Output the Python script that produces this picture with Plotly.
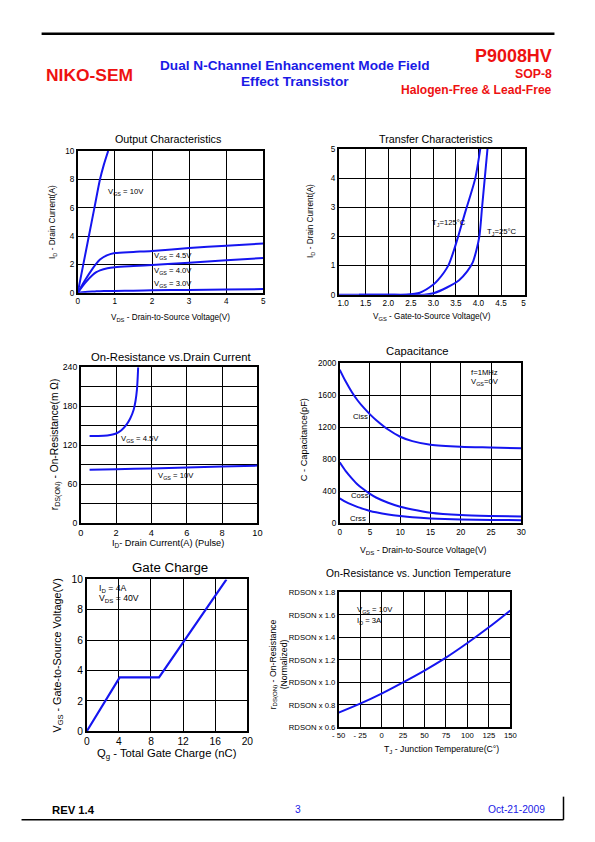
import plotly.graph_objects as go

# ---------------- data ----------------
out_vds_10 = [0, 0.15, 0.3, 0.45, 0.6, 0.7, 0.82]
out_id_10 = [0, 2, 4, 6, 8, 9, 10]
out_vds = [0, 0.2, 0.4, 0.5, 0.6, 0.8, 1.0, 1.5, 2, 3, 4, 5]
out_id_45 = [0, 0.9, 1.7, 2.05, 2.35, 2.65, 2.8, 2.88, 2.95, 3.15, 3.32, 3.47]
out_id_40 = [0, 0.7, 1.25, 1.45, 1.58, 1.73, 1.8, 1.88, 1.95, 2.12, 2.3, 2.45]
out_id_30 = [0, 0.06, 0.09, 0.1, 0.11, 0.12, 0.13, 0.15, 0.17, 0.2, 0.23, 0.26]

tr_vgs_125 = [0.9, 2.0, 2.4, 2.7, 3.0, 3.1, 3.33, 3.45, 3.55, 3.7, 3.8, 3.93, 4.04]
tr_id_125 = [0, 0, 0, 0.07, 0.35, 0.5, 1.0, 1.5, 2.0, 2.8, 3.3, 4.0, 5.0]
tr_vgs_25 = [1.35, 2.5, 2.8, 3.0, 3.3, 3.57, 3.75, 3.87, 3.95, 4.02, 4.08, 4.14, 4.2]
tr_id_25 = [0, 0, 0, 0.05, 0.25, 0.5, 0.8, 1.1, 1.5, 2.0, 3.0, 4.0, 5.0]

rd_id_45 = [0.5, 1.0, 1.5, 2.0, 2.3, 2.6, 2.8, 3.0, 3.1, 3.18, 3.22, 3.25]
rd_r_45 = [134, 134, 135, 138, 143, 152, 161, 175, 188, 205, 222, 240]
rd_id_10 = [0.5, 2, 4, 6, 8, 10]
rd_r_10 = [82, 83, 84, 85.5, 87, 88.5]

cap_vds = [0, 1, 2, 3, 4, 5, 6, 8, 10, 12, 15, 20, 25, 30]
cap_ciss = [1920, 1770, 1640, 1530, 1440, 1360, 1290, 1170, 1080, 1025, 980, 955, 945, 935]
cap_coss = [760, 650, 560, 480, 420, 365, 320, 255, 205, 170, 130, 100, 88, 82]
cap_crss = [310, 265, 230, 200, 175, 152, 135, 108, 88, 72, 58, 45, 40, 37]

gc_qg = [0, 4.1, 9.0, 17.4]
gc_vgs = [0, 3.55, 3.55, 10]

rt_tj = [-50, -25, 0, 25, 50, 75, 100, 125, 150]
rt_r = [0.73, 0.81, 0.90, 1.0, 1.105, 1.22, 1.35, 1.49, 1.64]

rt_yticks = [0.6, 0.8, 1.0, 1.2, 1.4, 1.6, 1.8]
rt_yticktext = ["RDSON x 0.6", "RDSON x 0.8", "RDSON x 1.0", "RDSON x 1.2",
                "RDSON x 1.4", "RDSON x 1.6", "RDSON x 1.8"]
rt_xticks = [-50, -25, 0, 25, 50, 75, 100, 125, 150]
rt_xticktext = ["- 50", "- 25", "0", "25", "50", "75", "100", "125", "150"]

# ---------------- layout helpers ----------------
PAGE_W, PAGE_H = 595, 842
OFF = 8  # default page margin of the html body
W, H = PAGE_W - 2 * OFF, PAGE_H - 2 * OFF
# observed capture mapping (page -> picture): picture = S * page + B
SX, BX = 0.974, 7.7
SY, BY = 0.981, 8.0
FS = 1.025
FONT = "Liberation Sans, Arial, sans-serif"
BLUE = "#1515f0"
RED = "#ee1111"
TBLUE = "#1a1ae6"


def fx(x):
    p = (x - BX) / SX
    return (p - OFF) / W


def fy(y):
    p = (y - BY) / SY
    return 1 - (p - OFF) / H


def fs(s):
    return round(s * FS, 2)


boxes = {
    1: (78, 263, 153, 294),
    2: (338, 524, 151, 296),
    3: (81, 257, 368, 523),
    4: (339, 520, 364, 523),
    5: (87, 247, 579, 730),
    6: (338, 509, 592, 726),
}

fig = go.Figure()

line = dict(color=BLUE, width=2, shape="spline", smoothing=0.8)


def add(i, x, y, smooth=True):
    suffix = "" if i == 1 else str(i)
    ln = dict(line)
    if not smooth:
        ln = dict(color=BLUE, width=2.2)
    fig.add_trace(go.Scatter(x=x, y=y, mode="lines", line=ln,
                             xaxis="x" + suffix, yaxis="y" + suffix,
                             showlegend=False, hoverinfo="skip"))


add(1, out_vds_10, out_id_10)
add(1, out_vds, out_id_45)
add(1, out_vds, out_id_40)
add(1, out_vds, out_id_30)
add(2, tr_vgs_125, tr_id_125)
add(2, tr_vgs_25, tr_id_25)
add(3, rd_id_45, rd_r_45)
add(3, rd_id_10, rd_r_10)
add(4, cap_vds, cap_ciss)
add(4, cap_vds, cap_coss)
add(4, cap_vds, cap_crss)
add(5, gc_qg, gc_vgs, smooth=False)
add(6, rt_tj, rt_r)


def axis(i, rng, tickvals, ticktext=None, size=8, is_x=True, minor=None, grid=True):
    l, r, t, b = boxes[i]
    suffix = "" if i == 1 else str(i)
    d = dict(
        range=rng, tickmode="array", tickvals=tickvals,
        showgrid=grid, gridcolor="black", gridwidth=1,
        showline=True, linecolor="black", linewidth=1.5, mirror=True,
        zeroline=False, ticks="", fixedrange=True,
        tickfont=dict(family=FONT, size=fs(size), color="black"),
        anchor=("y" if is_x else "x") + suffix,
    )
    if ticktext is not None:
        d["ticktext"] = ticktext
    if minor is not None:
        d["minor"] = minor
    if is_x:
        d["domain"] = [fx(l), fx(r)]
    else:
        d["domain"] = [fy(b), fy(t)]
    return d


lay = {}
lay["xaxis"] = axis(1, [0, 5], [0, 1, 2, 3, 4, 5], size=8)
lay["yaxis"] = axis(1, [0, 10], [0, 2, 4, 6, 8, 10], size=8, is_x=False)
lay["xaxis2"] = axis(2, [0.9, 5.04], [1.0, 1.5, 2.0, 2.5, 3.0, 3.5, 4.0, 4.5, 5.0],
                     ["1.0", "1.5", "2.0", "2.5", "3.0", "3.5", "4.0", "4.5", "5"],
                     size=8, grid=False,
                     minor=dict(tickmode="array", tickvals=[1.5, 2.0, 2.5, 3.0, 3.5, 4.0, 4.5],
                                showgrid=True, gridcolor="black", gridwidth=1, ticks=""))
lay["yaxis2"] = axis(2, [0, 5], [0, 1, 2, 3, 4, 5], size=8, is_x=False)
lay["xaxis3"] = axis(3, [0, 10], [0, 2, 4, 6, 8, 10], size=9)
lay["yaxis3"] = axis(3, [0, 240], [0, 60, 120, 180, 240], size=8.5, is_x=False,
                     minor=dict(tickmode="array", tickvals=[30, 90, 150, 210],
                                showgrid=True, gridcolor="black", gridwidth=1, ticks=""))
lay["xaxis4"] = axis(4, [0, 30], [0, 5, 10, 15, 20, 25, 30], size=8)
lay["yaxis4"] = axis(4, [0, 2000], [0, 400, 800, 1200, 1600, 2000], size=8, is_x=False)
lay["xaxis5"] = axis(5, [0, 20], [0, 4, 8, 12, 16, 20], size=10)
lay["yaxis5"] = axis(5, [0, 10], [0, 2, 4, 6, 8, 10], size=10, is_x=False)
lay["xaxis6"] = axis(6, [-50, 150], rt_xticks, rt_xticktext, size=7.5)
lay["yaxis6"] = axis(6, [0.6, 1.8], rt_yticks, rt_yticktext, size=7.5, is_x=False)

fig.update_layout(**lay)

ann = []


def txt(x, y, s, size=8, color="black", anchor="center", angle=0, bold=False):
    if bold:
        s = "<b>" + s + "</b>"
    ann.append(dict(x=fx(x), y=fy(y), xref="paper", yref="paper", text=s,
                    showarrow=False, xanchor=anchor, yanchor="middle",
                    textangle=angle, font=dict(family=FONT, size=fs(size), color=color)))


def dtxt(i, x, y, s, size=7.5, anchor="left"):
    suffix = "" if i == 1 else str(i)
    ann.append(dict(x=x, y=y, xref="x" + suffix, yref="y" + suffix, text=s,
                    showarrow=False, xanchor=anchor, yanchor="middle",
                    font=dict(family=FONT, size=fs(size), color="black")))


# header
txt(44, 77, "NIKO-SEM", size=17, color=RED, anchor="left", bold=True)
txt(294, 68, "Dual N-Channel Enhancement Mode Field", size=13.3, color=TBLUE, bold=True)
txt(294, 84, "Effect Transistor", size=13.3, color=TBLUE, bold=True)
txt(553, 59, "P9008HV", size=17.5, color=RED, anchor="right", bold=True)
txt(553, 76, "SOP-8", size=12, color=RED, anchor="right", bold=True)
txt(553, 92, "Halogen-Free &amp; Lead-Free", size=11.8, color=RED, anchor="right", bold=True)

# footer
txt(50, 808, "REV 1.4", size=11, anchor="left", bold=True)
txt(297, 808, "3", size=10, color=TBLUE)
txt(546, 808, "Oct-21-2009", size=10, color=TBLUE, anchor="right")

# chart 1
txt(168, 141, "Output Characteristics", size=10.5)
txt(54, 224, "I<sub>D</sub> - Drain Current(A)", size=8, angle=-90)
txt(170, 319, "V<sub>DS</sub> - Drain-to-Source Voltage(V)", size=8)
dtxt(1, 0.75, 7.1, "V<sub>GS</sub> = 10V")
dtxt(1, 2.0, 2.6, "V<sub>GS</sub> = 4.5V")
dtxt(1, 2.0, 1.55, "V<sub>GS</sub> = 4.0V")
dtxt(1, 2.0, 0.62, "V<sub>GS</sub> = 3.0V")

# chart 2
txt(435, 141, "Transfer Characteristics", size=10.5)
txt(311, 223, "I<sub>D</sub> - Drain Current(A)", size=8, angle=-90)
txt(431, 318, "V<sub>GS</sub> - Gate-to-Source Voltage(V)", size=8)
dtxt(2, 2.93, 2.45, "T<sub>J</sub>=125°C")
dtxt(2, 4.15, 2.15, "T<sub>J</sub>=25°C")

# chart 3
txt(171, 358, "On-Resistance vs.Drain Current", size=11)
txt(56, 445, "r<sub>DS(ON)</sub> - On-Resistance(m Ω)", size=10, angle=-90)
txt(168, 543, "I<sub>D</sub>- Drain Current(A) (Pulse)", size=9)
dtxt(3, 2.15, 129, "V<sub>GS</sub> = 4.5V")
dtxt(3, 4.25, 72, "V<sub>GS</sub> = 10V")

# chart 4
txt(417, 352, "Capacitance", size=11)
txt(303, 440, "C - Capacitance(pF)", size=9, angle=-90)
txt(423, 550, "V<sub>DS</sub> - Drain-to-Source Voltage(V)", size=8.5)
dtxt(4, 3.5, 1330, "Ciss", anchor="center")
dtxt(4, 3.3, 345, "Coss", anchor="center")
dtxt(4, 3.1, 60, "Crss", anchor="center")
dtxt(4, 21.3, 1885, "f=1MHz")
dtxt(4, 21.3, 1760, "V<sub>GS</sub>=0V")

# chart 5
txt(170, 567, "Gate Charge", size=13)
txt(58, 655, "V<sub>GS</sub> - Gate-to-Source Voltage(V)", size=10.5, angle=-90)
txt(167, 753, "Q<sub>g</sub> - Total Gate Charge (nC)", size=11)
dtxt(5, 1.3, 9.4, "I<sub>D</sub> = 4A", size=8.5)
dtxt(5, 1.3, 8.75, "V<sub>DS</sub> = 40V", size=8.5)

# chart 6
txt(418, 573, "On-Resistance vs. Junction Temperature", size=10)
txt(278, 663, "r<sub>DS(ON)</sub> - On-Resistance<br>(Normalized)", size=8.5, angle=-90)
txt(440, 748, "T<sub>J</sub> - Junction Temperature(C°)", size=8.5)
dtxt(6, -31, 1.645, "V<sub>GS</sub> = 10V")
dtxt(6, -31, 1.548, "I<sub>D</sub> = 3A")

shapes = [
    dict(type="line", xref="paper", yref="paper", x0=fx(42), x1=fx(553),
         y0=fy(36.5), y1=fy(36.5), line=dict(color="black", width=2.5)),
    dict(type="line", xref="paper", yref="paper", x0=fx(22), x1=fx(562),
         y0=fy(818), y1=fy(818), line=dict(color="black", width=1.5)),
    dict(type="line", xref="paper", yref="paper", x0=fx(562), x1=fx(562),
         y0=fy(795), y1=fy(818), line=dict(color="black", width=1.5)),
]

fig.update_layout(
    width=W, height=H, margin=dict(l=0, r=0, t=0, b=0),
    paper_bgcolor="white", plot_bgcolor="white",
    annotations=ann, shapes=shapes, showlegend=False,
    font=dict(family=FONT, size=8, color="black"),
)

fig.write_html("out.html", config={"displayModeBar": False})
